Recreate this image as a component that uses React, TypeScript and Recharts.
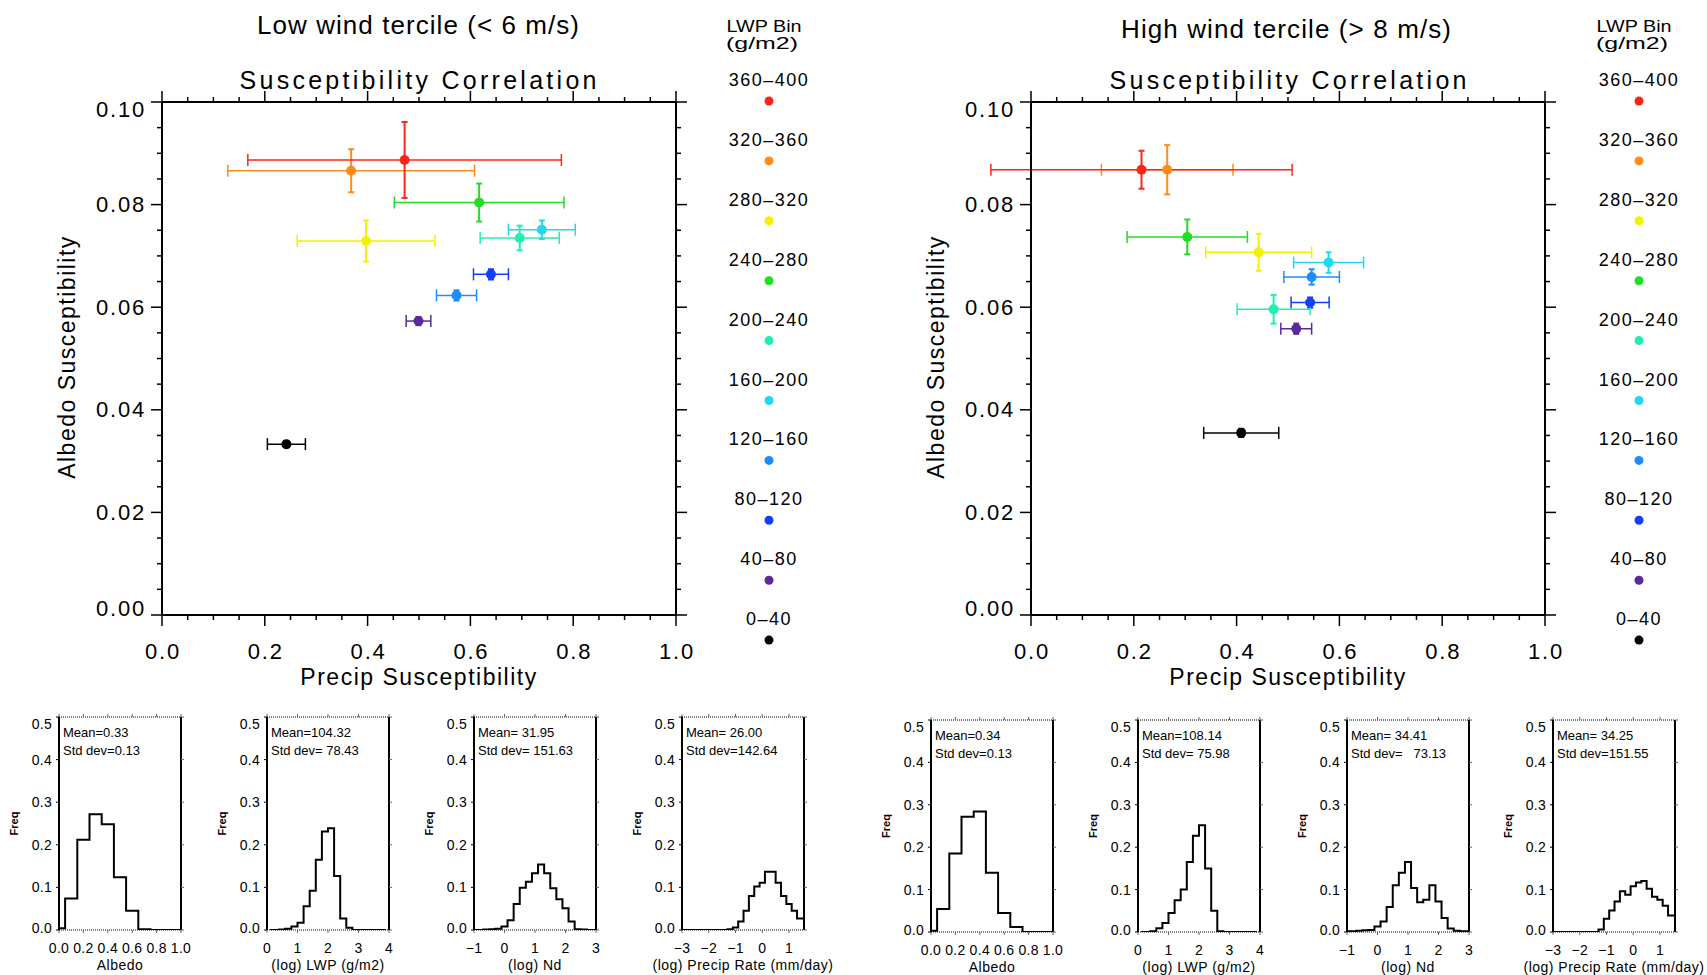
import React from 'react';
import { ScatterChart, Scatter, ErrorBar, LineChart, Line, XAxis, YAxis } from 'recharts';

const FONT = "'Liberation Sans', Arial, Helvetica, sans-serif";

// LWP bins, top of legend first
const lwpBins = ['360–400', '320–360', '280–320', '240–280', '200–240', '160–200', '120–160', '80–120', '40–80', '0–40'];
const binColors = ['#ff2418', '#ff8c1a', '#f2f200', '#22dd22', '#22eeb4', '#22d8ee', '#1e8cff', '#1040ff', '#5a2a9a', '#000000'];

// low wind tercile: precip susceptibility (x), albedo susceptibility (y), errors
const lowX = [0.472, 0.368, 0.397, 0.617, 0.696, 0.739, 0.573, 0.640, 0.499, 0.242];
const lowY = [0.0887, 0.0866, 0.0729, 0.0804, 0.0735, 0.0751, 0.0623, 0.0664, 0.0573, 0.0333];
const lowXErr = [0.305, 0.24, 0.134, 0.165, 0.077, 0.065, 0.039, 0.034, 0.024, 0.037];
const lowYErr = [0.0074, 0.0042, 0.004, 0.0037, 0.0024, 0.0018, 0.001, 0.001, 0.0008, 0.0006];

// high wind tercile
const highX = [0.215, 0.265, 0.443, 0.304, 0.472, 0.579, 0.546, 0.543, 0.516, 0.409];
const highY = [0.0868, 0.0868, 0.0707, 0.0737, 0.0596, 0.0687, 0.0659, 0.0609, 0.0558, 0.0355];
const highXErr = [0.293, 0.128, 0.103, 0.117, 0.071, 0.068, 0.054, 0.037, 0.03, 0.073];
const highYErr = [0.0037, 0.0048, 0.0036, 0.0034, 0.0028, 0.002, 0.0015, 0.001, 0.001, 0.0008];

const suscXTicks = [0, 0.05, 0.1, 0.15, 0.2, 0.25, 0.3, 0.35, 0.4, 0.45, 0.5, 0.55, 0.6, 0.65, 0.7, 0.75, 0.8, 0.85, 0.9, 0.95, 1];
const suscYTicks = [0, 0.005, 0.01, 0.015, 0.02, 0.025, 0.03, 0.035, 0.04, 0.045, 0.05, 0.055, 0.06, 0.065, 0.07, 0.075, 0.08, 0.085, 0.09, 0.095, 0.1];

// histograms
const albedoCenters = [0, 0.1, 0.2, 0.3, 0.4, 0.5, 0.6, 0.7, 0.8, 0.9, 1.0];
const lowAlbedoFreq = [0.004, 0.074, 0.212, 0.272, 0.248, 0.124, 0.045, 0.002, 0, 0, 0];
const highAlbedoFreq = [0.003, 0.054, 0.185, 0.272, 0.284, 0.14, 0.045, 0.012, 0, 0, 0];

const lwpCenters = [0.1, 0.3, 0.5, 0.7, 0.9, 1.1, 1.3, 1.5, 1.7, 1.9, 2.1, 2.3, 2.5, 2.7, 2.9, 3.1, 3.3, 3.5, 3.7, 3.9];
const lowLwpFreq = [0, 0, 0.001, 0.003, 0.008, 0.017, 0.056, 0.092, 0.165, 0.231, 0.239, 0.127, 0.027, 0.005, 0, 0, 0, 0, 0, 0];
const highLwpFreq = [0, 0, 0.002, 0.009, 0.021, 0.045, 0.075, 0.1, 0.165, 0.227, 0.252, 0.15, 0.05, 0.002, 0, 0, 0, 0, 0, 0];

const ndCenters = [-1.0, -0.8, -0.6, -0.4, -0.2, 0, 0.2, 0.4, 0.6, 0.8, 1.0, 1.2, 1.4, 1.6, 1.8, 2.0, 2.2, 2.4, 2.6, 2.8, 3.0];
const lowNdFreq = [0, 0, 0.001, 0.002, 0.003, 0.008, 0.023, 0.061, 0.099, 0.113, 0.133, 0.154, 0.133, 0.098, 0.072, 0.051, 0.02, 0.002, 0.001, 0, 0];
const highNdFreq = [0.002, 0.002, 0.003, 0.004, 0.005, 0.013, 0.025, 0.059, 0.11, 0.14, 0.165, 0.104, 0.07, 0.076, 0.11, 0.072, 0.033, 0.008, 0.003, 0.002, 0.002];

const precipCenters = [-3.0, -2.8, -2.6, -2.4, -2.2, -2.0, -1.8, -1.6, -1.4, -1.2, -1.0, -0.8, -0.6, -0.4, -0.2, 0, 0.2, 0.4, 0.6, 0.8, 1.0, 1.2, 1.4, 1.6];
const lowPrecipFreq = [0, 0, 0, 0, 0, 0, 0, 0, 0, 0.002, 0.006, 0.02, 0.045, 0.08, 0.102, 0.111, 0.137, 0.137, 0.111, 0.08, 0.061, 0.045, 0.027, 0.027];
const highPrecipFreq = [0, 0, 0, 0, 0, 0, 0, 0, 0, 0.006, 0.031, 0.051, 0.072, 0.096, 0.088, 0.108, 0.117, 0.12, 0.102, 0.083, 0.076, 0.062, 0.039, 0.039];

const freqTicks = [0, 0.1, 0.2, 0.3, 0.4, 0.5];
const albedoTicks = [0, 0.2, 0.4, 0.6, 0.8, 1.0];
const lwpTicks = [0, 1, 2, 3, 4];
const ndTicks = [-1, 0, 1, 2, 3];
const precipTicks = [-3, -2, -1, 0, 1];

const histTitles = ['Albedo', '(log) LWP (g/m2)', '(log) Nd', '(log) Precip Rate (mm/day)'];
const lowStats = [['Mean=0.33', 'Std dev=0.13'], ['Mean=104.32', 'Std dev= 78.43'], ['Mean= 31.95', 'Std dev= 151.63'], ['Mean= 26.00', 'Std dev=142.64']];
const highStats = [['Mean=0.34', 'Std dev=0.13'], ['Mean=108.14', 'Std dev= 75.98'], ['Mean= 34.41', 'Std dev=   73.13'], ['Mean= 34.25', 'Std dev=151.55']];

const isMultiple = (v: number, step: number) => Math.abs(v / step - Math.round(v / step)) < 1e-6;
const minus = (s: string) => s.replace('-', '\u2212');

// scatter axes: outward ticks, major labelled
const suscTick = (side: string) => (p: any) => {
  const v = p.payload.value as number;
  const isX = side === 'bottom' || side === 'top';
  const major = isMultiple(v, isX ? 0.2 : 0.02);
  const len = major ? 11 : 5;
  const { x, y } = p;
  const txt = { fontFamily: FONT, fontSize: 22, letterSpacing: 1.8, fill: '#000' } as any;
  if (side === 'bottom') {
    return (
      <g>
        <line x1={x} y1={y} x2={x} y2={y + len} stroke="#000" strokeWidth={1.5} />
        {major && <text x={x + 1} y={y + 36} textAnchor="middle" dominantBaseline="central" {...txt}>{v.toFixed(1)}</text>}
      </g>
    );
  }
  if (side === 'top') return <line x1={x} y1={y} x2={x} y2={y - len} stroke="#000" strokeWidth={1.5} />;
  if (side === 'right') return <line x1={x} y1={y} x2={x + len} y2={y} stroke="#000" strokeWidth={1.5} />;
  const shift = v >= 0.0999 ? 7 : v <= 0.0001 ? -7 : 0;
  return (
    <g>
      <line x1={x - len} y1={y} x2={x} y2={y} stroke="#000" strokeWidth={1.5} />
      {major && <text x={x - 16} y={y + shift} textAnchor="end" dominantBaseline="central" {...txt}>{v.toFixed(2)}</text>}
    </g>
  );
};

const histTick = (side: string, fmt?: (v: number) => string) => (p: any) => {
  const v = p.payload.value as number;
  const { x, y } = p;
  const txt = { fontFamily: FONT, fontSize: 14, letterSpacing: 0.3, fill: '#000' } as any;
  if (side === 'bottom') {
    return (
      <g>
        <line x1={x} y1={y} x2={x} y2={y + 3} stroke="#666" strokeWidth={1} />
        <text x={x} y={y + 18} textAnchor="middle" dominantBaseline="central" {...txt}>{fmt ? fmt(v) : v}</text>
      </g>
    );
  }
  if (side === 'top') return <line x1={x} y1={y} x2={x} y2={y - 3} stroke="#666" strokeWidth={1} />;
  if (side === 'right') return <line x1={x} y1={y} x2={x + 3} y2={y} stroke="#666" strokeWidth={1} />;
  const shift = v >= 0.499 ? 7 : v <= 0.001 ? -2 : 0;
  return (
    <g>
      <line x1={x - 3} y1={y} x2={x} y2={y} stroke="#000" strokeWidth={1} />
      <text x={x - 7} y={y + shift} textAnchor="end" dominantBaseline="central" {...txt}>{v.toFixed(1)}</text>
    </g>
  );
};

type ScatterProps = { left: number; top: number; xs: number[]; ys: number[]; xErr: number[]; yErr: number[] };

const SuscPanel = ({ left, top, xs, ys, xErr, yErr }: ScatterProps) => {
  const W = 514, H = 513, AL = 80, AR = 30, AT = 14, AB = 50;
  const order = [9, 8, 7, 6, 5, 4, 3, 2, 1, 0];
  const axisLine = { stroke: '#000', strokeWidth: 2 };
  return (
    <div style={{ position: 'absolute', left: left - AL, top: top - AT }}>
      <ScatterChart width={AL + W + AR} height={AT + H + AB} margin={{ top: 0, right: 0, bottom: 0, left: 0 }}>
        <XAxis xAxisId="b" dataKey="x" type="number" domain={[0, 1]} allowDataOverflow ticks={suscXTicks} interval={0}
          height={AB} tickSize={0} tickMargin={0} tickLine={false} axisLine={axisLine} tick={suscTick('bottom')} />
        <XAxis xAxisId="t" orientation="top" dataKey="x" type="number" domain={[0, 1]} allowDataOverflow ticks={suscXTicks} interval={0}
          height={AT} tickSize={0} tickMargin={0} tickLine={false} axisLine={axisLine} tick={suscTick('top')} />
        <YAxis yAxisId="l" dataKey="y" type="number" domain={[0, 0.1]} allowDataOverflow ticks={suscYTicks} interval={0}
          width={AL} tickSize={0} tickMargin={0} tickLine={false} axisLine={axisLine} tick={suscTick('left')} />
        <YAxis yAxisId="r" orientation="right" dataKey="y" type="number" domain={[0, 0.1]} allowDataOverflow ticks={suscYTicks} interval={0}
          width={AR} tickSize={0} tickMargin={0} tickLine={false} axisLine={axisLine} tick={suscTick('right')} />
        {order.map((i) => (
          <Scatter key={lwpBins[i]} name={lwpBins[i]} xAxisId="b" yAxisId="l"
            data={[{ x: xs[i], y: ys[i], ex: xErr[i], ey: yErr[i] }]}
            fill={binColors[i]} isAnimationActive={false}
            shape={(p: any) => <circle cx={p.cx} cy={p.cy} r={5} fill={binColors[i]} />}>
            <ErrorBar dataKey="ex" direction="x" width={6} stroke={binColors[i]} strokeWidth={1.5} isAnimationActive={false} />
            <ErrorBar dataKey="ey" direction="y" width={3} stroke={binColors[i]} strokeWidth={2} isAnimationActive={false} />
          </Scatter>
        ))}
      </ScatterChart>
    </div>
  );
};

type HistProps = { left: number; top: number; height: number; centers: number[]; freq: number[]; domain: number[]; ticks: number[]; fmt: (v: number) => string };

const HistPanel = ({ left, top, height, centers, freq, domain, ticks, fmt }: HistProps) => {
  const W = 122, AL = 45, AR = 16, AT = 6, AB = 40;
  const data = centers.map((c, i) => ({ x: c, f: freq[i] }));
  const dotted = { stroke: '#000', strokeWidth: 1.2, strokeDasharray: '1 1' };
  const solid = { stroke: '#000', strokeWidth: 2 };
  return (
    <div style={{ position: 'absolute', left: left - AL, top: top - AT }}>
      <LineChart width={AL + W + AR} height={AT + height + AB} data={data} margin={{ top: 0, right: 0, bottom: 0, left: 0 }}>
        <XAxis xAxisId="b" dataKey="x" type="number" domain={domain} allowDataOverflow ticks={ticks} interval={0}
          height={AB} tickSize={0} tickMargin={0} tickLine={false} axisLine={dotted} tick={histTick('bottom', fmt)} />
        <XAxis xAxisId="t" orientation="top" dataKey="x" type="number" domain={domain} allowDataOverflow ticks={ticks} interval={0}
          height={AT} tickSize={0} tickMargin={0} tickLine={false} axisLine={dotted} tick={histTick('top')} />
        <YAxis yAxisId="l" dataKey="f" type="number" domain={[0, 0.5]} allowDataOverflow ticks={freqTicks} interval={0}
          width={AL} tickSize={0} tickMargin={0} tickLine={false} axisLine={solid} tick={histTick('left')} />
        <YAxis yAxisId="r" orientation="right" dataKey="f" type="number" domain={[0, 0.5]} allowDataOverflow ticks={freqTicks} interval={0}
          width={AR} tickSize={0} tickMargin={0} tickLine={false} axisLine={solid} tick={histTick('right')} />
        <Line xAxisId="b" yAxisId="l" dataKey="f" type="step" stroke="#000" strokeWidth={2} dot={false} isAnimationActive={false} />
      </LineChart>
    </div>
  );
};

const fmtAlbedo = (v: number) => v.toFixed(1);
const fmtInt = (v: number) => minus(String(v));

const histLefts = [59, 267, 474, 682, 931, 1138, 1347, 1553];
const HW = 122;

export default function App() {
  const lowHists = [
    { centers: albedoCenters, freq: lowAlbedoFreq, domain: [0, 1], ticks: albedoTicks, fmt: fmtAlbedo },
    { centers: lwpCenters, freq: lowLwpFreq, domain: [0, 4], ticks: lwpTicks, fmt: fmtInt },
    { centers: ndCenters, freq: lowNdFreq, domain: [-1, 3], ticks: ndTicks, fmt: fmtInt },
    { centers: precipCenters, freq: lowPrecipFreq, domain: [-3, 1.56], ticks: precipTicks, fmt: fmtInt },
  ];
  const highHists = [
    { centers: albedoCenters, freq: highAlbedoFreq, domain: [0, 1], ticks: albedoTicks, fmt: fmtAlbedo },
    { centers: lwpCenters, freq: highLwpFreq, domain: [0, 4], ticks: lwpTicks, fmt: fmtInt },
    { centers: ndCenters, freq: highNdFreq, domain: [-1, 3], ticks: ndTicks, fmt: fmtInt },
    { centers: precipCenters, freq: highPrecipFreq, domain: [-3, 1.56], ticks: precipTicks, fmt: fmtInt },
  ];
  const hists = [
    ...lowHists.map((h, i) => ({ ...h, left: histLefts[i], top: 717, height: 213, stats: lowStats[i], title: histTitles[i] })),
    ...highHists.map((h, i) => ({ ...h, left: histLefts[i + 4], top: 720, height: 212, stats: highStats[i], title: histTitles[i] })),
  ];
  const legendXs = [769, 1639];
  const t = { fontFamily: FONT, fill: '#000' } as any;

  return (
    <div style={{ position: 'absolute', left: 0, top: 0, width: 1707, height: 975, background: '#fff', overflow: 'hidden' }}>
      <SuscPanel left={162} top={102} xs={lowX} ys={lowY} xErr={lowXErr} yErr={lowYErr} />
      <SuscPanel left={1031} top={102} xs={highX} ys={highY} xErr={highXErr} yErr={highYErr} />
      {hists.map((h, i) => (
        <HistPanel key={i} left={h.left} top={h.top} height={h.height} centers={h.centers} freq={h.freq}
          domain={h.domain} ticks={h.ticks} fmt={h.fmt} />
      ))}
      <svg width={1707} height={975} style={{ position: 'absolute', left: 0, top: 0, pointerEvents: 'none' }}>
        <text x={418} y={34} textAnchor="middle" fontSize={26} textLength={322} lengthAdjust="spacing" {...t}>Low wind tercile (&lt; 6 m/s)</text>
        <text x={1286} y={38} textAnchor="middle" fontSize={26} textLength={330} lengthAdjust="spacing" {...t}>High wind tercile (&gt; 8 m/s)</text>
        <text x={418} y={89} textAnchor="middle" fontSize={25} textLength={357} lengthAdjust="spacing" {...t}>Susceptibility Correlation</text>
        <text x={1288} y={89} textAnchor="middle" fontSize={25} textLength={357} lengthAdjust="spacing" {...t}>Susceptibility Correlation</text>
        <text x={419} y={685} textAnchor="middle" fontSize={23} letterSpacing={1.5} {...t}>Precip Susceptibility</text>
        <text x={1288} y={685} textAnchor="middle" fontSize={23} letterSpacing={1.5} {...t}>Precip Susceptibility</text>
        <text transform="translate(75,357) rotate(-90)" textAnchor="middle" fontSize={23} letterSpacing={1.5} {...t}>Albedo Susceptibility</text>
        <text transform="translate(944,357) rotate(-90)" textAnchor="middle" fontSize={23} letterSpacing={1.5} {...t}>Albedo Susceptibility</text>
        {legendXs.map((lx, k) => (
          <g key={k}>
            <text x={lx - 5} y={32} textAnchor="middle" fontSize={16} textLength={75} lengthAdjust="spacingAndGlyphs" {...t}>LWP Bin</text>
            <text x={lx - 7} y={49} textAnchor="middle" fontSize={17} textLength={72} lengthAdjust="spacingAndGlyphs" {...t}>(g/m2)</text>
            {lwpBins.map((b, i) => (
              <g key={b}>
                <text x={lx} y={86 + 59.9 * i} textAnchor="middle" fontSize={18} letterSpacing={1.5} {...t}>{b}</text>
                <circle cx={lx} cy={101 + 59.9 * i} r={4.5} fill={binColors[i]} />
              </g>
            ))}
          </g>
        ))}
        {hists.map((h, i) => (
          <g key={i}>
            <text x={h.left + 4} y={h.top + 20} fontSize={13} style={{ whiteSpace: 'pre' }} {...t}>{h.stats[0]}</text>
            <text x={h.left + 4} y={h.top + 38} fontSize={13} style={{ whiteSpace: 'pre' }} {...t}>{h.stats[1]}</text>
            <text transform={`translate(${h.left - 41},${h.top + h.height / 2}) rotate(-90)`} textAnchor="middle" fontSize={11} fontWeight={600} {...t}>Freq</text>
            <text x={h.left + HW / 2} y={h.top + h.height + 40} textAnchor="middle" fontSize={14} letterSpacing={0.5} {...t}>{h.title}</text>
          </g>
        ))}
      </svg>
    </div>
  );
}
